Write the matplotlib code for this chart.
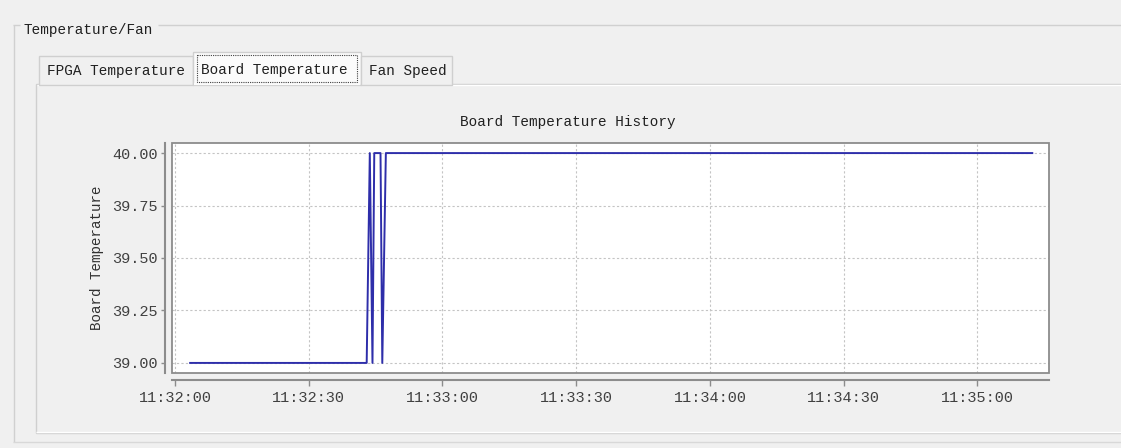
import matplotlib
matplotlib.use("Agg")
import matplotlib.pyplot as plt
import matplotlib.dates as mdates
from matplotlib.patches import Rectangle
import pandas as pd

# board temperature samples (time of day, degrees)
sample_times = ["11:32:03.4", "11:32:43.0", "11:32:43.7", "11:32:44.3", "11:32:44.7",
                "11:32:46.1", "11:32:46.5", "11:32:47.3", "11:35:12.3"]
board_temp = [39.0, 39.0, 40.0, 39.0, 40.0, 40.0, 39.0, 40.0, 40.0]
y_ticks = [39.00, 39.25, 39.50, 39.75, 40.00]
tab_names = ["FPGA Temperature", "Board Temperature", "Fan Speed"]

DAY = "2024-01-01 "
W, H = 1121, 448
BG = "#f0f0f0"
FONT = "Liberation Mono"

fig = plt.figure(figsize=(W / 100, H / 100), dpi=100)
fig.patch.set_facecolor(BG)

# full-figure overlay in pixel coordinates for the window widgets
ui = fig.add_axes([0, 0, 1, 1])
ui.set_xlim(0, W)
ui.set_ylim(H, 0)
ui.axis("off")

def hline(x0, x1, y, c, lw=1.0):
    ui.plot([x0, x1], [y, y], color=c, lw=lw, solid_capstyle="butt")

def vline(x, y0, y1, c, lw=1.0):
    ui.plot([x, x], [y0, y1], color=c, lw=lw, solid_capstyle="butt")

# group box "Temperature/Fan"
hline(13, 20, 25.5, "#d0d0d0")
hline(158, W, 25.5, "#d0d0d0")
vline(13.5, 25, 442, "#d0d0d0")
hline(13, W, 442, "#d8d8d8")
ui.text(23, 30, "Temperature/Fan", fontsize=10.4, family=FONT, va="center", ha="left", color="#202020")

# tab body panel
ui.add_patch(Rectangle((36, 84), W - 36 + 5, 349, facecolor=BG, edgecolor="#cfcfcf", lw=1.0))
hline(37, W, 85, "#ffffff")
hline(36, W, 432, "#ffffff")

# tabs
tabs = [(39, 193, 56), (193, 361, 52), (361, 452, 56)]
for i, (name, (x0, x1, top)) in enumerate(zip(tab_names, tabs)):
    selected = i == 1
    ui.add_patch(Rectangle((x0, top), x1 - x0, 85 - top,
                           facecolor="#fbfbfb" if selected else BG,
                           edgecolor="#cfcfcf", lw=1.0, zorder=2))
    ui.text(x0 + 8, 70 if selected else 71, name, fontsize=10.4, family=FONT,
            va="center", ha="left", color="#202020", zorder=3)
# selected tab merges with the panel; dotted focus ring around its label
hline(193.6, 360.4, 84.5, "#fbfbfb", lw=1.6)
ui.add_patch(Rectangle((197, 55.5), 160, 26.5, fill=False, edgecolor="#404040",
                       lw=0.8, linestyle=(0, (1, 1)), zorder=3))

# chart title and axis label
ui.text(568, 122, "Board Temperature History", fontsize=10.4, family=FONT,
        ha="center", va="center", color="#202020")
ui.text(97, 258, "Board Temperature", fontsize=10.2, family=FONT, rotation=90,
        ha="center", va="center", color="#303030")

# plot area
L, T, R, B = 172, 143, 1049, 373
ax = fig.add_axes([L / W, 1 - B / H, (R - L) / W, (B - T) / H])
ax.set_facecolor("white")

t = pd.to_datetime([DAY + s for s in sample_times])
ax.plot(t, board_temp, color="#2e2eaa", lw=1.4, zorder=3)

ax.set_ylim(38.952, 40.048)
ax.set_xlim(pd.Timestamp(DAY + "11:31:59.33"), pd.Timestamp(DAY + "11:35:16.05"))
ax.set_yticks(y_ticks)
ax.yaxis.set_major_formatter(matplotlib.ticker.FormatStrFormatter("%.2f"))
ax.xaxis.set_major_locator(mdates.SecondLocator(bysecond=[0, 30]))
ax.xaxis.set_major_formatter(mdates.DateFormatter("%H:%M:%S"))

ax.grid(True, color="#c4c4c4", lw=0.8, linestyle=(0, (2, 2)))
ax.set_axisbelow(True)

for side in ["top", "right"]:
    ax.spines[side].set_visible(False)
for side in ["left", "bottom"]:
    ax.spines[side].set_position(("outward", 5))
    ax.spines[side].set_color("#8c8c8c")
    ax.spines[side].set_linewidth(1.5)

# plot border
ax.add_patch(Rectangle((0, 0), 1, 1, transform=ax.transAxes, fill=False,
                       edgecolor="#8c8c8c", lw=1.3, clip_on=False, zorder=4))

ax.tick_params(axis="both", colors="#8c8c8c", labelcolor="#404040", width=1.0)
ax.tick_params(axis="x", length=4, pad=4)
ax.tick_params(axis="y", length=3, pad=2)
for lab in ax.get_xticklabels() + ax.get_yticklabels():
    lab.set_family(FONT)
    lab.set_fontsize(11)

fig.savefig("out.png", dpi=100, facecolor=BG)
